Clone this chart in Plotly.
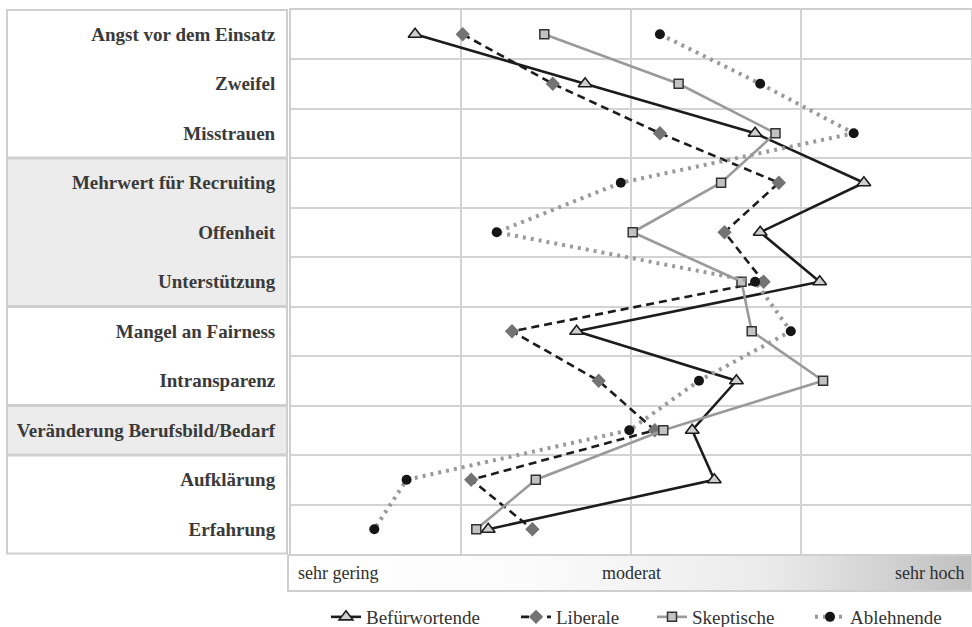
import plotly.graph_objects as go

# ---------------- data ----------------
categories = [
    "Angst vor dem Einsatz", "Zweifel", "Misstrauen",
    "Mehrwert für Recruiting", "Offenheit", "Unterstützung",
    "Mangel an Fairness", "Intransparenz",
    "Veränderung Berufsbild/Bedarf",
    "Aufklärung", "Erfahrung",
]
befuerwortende = [1.73, 2.73, 3.73, 4.37, 3.76, 4.11, 2.68, 3.62, 3.36, 3.49, 2.16]
liberale       = [2.01, 2.54, 3.17, 3.87, 3.55, 3.78, 2.30, 2.81, 3.14, 2.06, 2.42]
skeptische     = [2.49, 3.28, 3.85, 3.53, 3.01, 3.65, 3.71, 4.13, 3.19, 2.44, 2.09]
ablehnende     = [3.17, 3.76, 4.31, 2.94, 2.21, 3.73, 3.94, 3.40, 2.99, 1.68, 1.49]
series_names = ["Befürwortende", "Liberale", "Skeptische", "Ablehnende"]
scale_labels = ["sehr gering", "moderat", "sehr hoch"]
scale_values = [1, 3, 5]
x_grid = [2, 3, 4]
# row groups of the label panel: (first row, end row, shaded)
groups = [(0, 3, False), (3, 6, True), (6, 8, False), (8, 9, True), (9, 11, False)]

# ---------------- geometry ----------------
W, H = 972, 627
PL, PR, PT, PB = 291, 971, 9.5, 554      # plot area in pixels
ROW = (PB - PT) / len(categories)


def px(x):
    return x / W


def py(y):
    return 1 - y / H


SERIF = "Liberation Serif, Times New Roman, serif"

fig = go.Figure()

styles = [
    dict(line=dict(color="#1c1c1c", width=2.6),
         marker=dict(symbol="triangle-up", size=12, color="#cfcfcf",
                     line=dict(color="#1c1c1c", width=1.6))),
    dict(line=dict(color="#1c1c1c", width=2.6, dash="8px,5px"),
         marker=dict(symbol="diamond", size=11, color="#737373",
                     line=dict(color="#737373", width=0))),
    dict(line=dict(color="#9a9a9a", width=2.6),
         marker=dict(symbol="square", size=9, color="#c2c2c2",
                     line=dict(color="#333333", width=1.5))),
    dict(line=dict(color="#9a9a9a", width=4, dash="3px,5px"),
         marker=dict(symbol="circle", size=10, color="#151515",
                     line=dict(color="#151515", width=0))),
]
values = [befuerwortende, liberale, skeptische, ablehnende]
legend_ids = ["legend", "legend2", "legend3", "legend4"]

for name, vals, st, lg in zip(series_names, values, styles, legend_ids):
    fig.add_trace(go.Scatter(
        x=vals, y=categories, mode="lines+markers", name=name,
        legend=lg, hoverinfo="x+name", **st))

# gradient bar (second subplot)
fig.add_trace(go.Scatter(
    x=[0, 1, 1, 0, 0], y=[0, 0, 1, 1, 0], mode="lines",
    line=dict(width=0, color="rgba(0,0,0,0)"),
    fill="toself",
    fillgradient=dict(type="horizontal",
                      colorscale=[[0, "#ffffff"], [0.35, "#fbfbfb"],
                                  [0.7, "#ebebeb"], [1, "#c0c0c0"]]),
    xaxis="x2", yaxis="y2", showlegend=False, hoverinfo="skip"))

# label panel boxes
shapes = []
for a, b, shaded in groups:
    shapes.append(dict(
        type="rect", xref="paper", yref="paper", layer="below",
        x0=px(7), x1=px(287),
        y0=py(PT + ROW * a + 0.5), y1=py(PT + ROW * b - 0.5),
        fillcolor="#ececec" if shaded else "#ffffff",
        line=dict(color="#cfcfcf", width=2)))

annotations = []
for lab, v, anc, sh in zip(scale_labels, scale_values,
                           ["left", "center", "right"], [5, 0, -5]):
    annotations.append(dict(
        text=lab, x=v, xref="x", y=py(573), yref="paper",
        xanchor=anc, yanchor="middle", xshift=sh, showarrow=False,
        font=dict(family=SERIF, size=18, color="#2e2e2e")))

legend_text_x = [368, 558, 694, 852]
legends = {}
for lg, tx in zip(legend_ids, legend_text_x):
    legends[lg] = dict(
        x=px(tx - 42), xanchor="left", y=py(617), yanchor="middle",
        orientation="h", bgcolor="rgba(0,0,0,0)", borderwidth=0,
        font=dict(family=SERIF, size=19, color="#333333"))

fig.update_layout(
    width=W, height=H,
    margin=dict(l=0, r=0, t=0, b=0, autoexpand=False),
    paper_bgcolor="white", plot_bgcolor="white",
    shapes=shapes, annotations=annotations,
    xaxis=dict(domain=[px(PL), px(PR)], range=[1, 5],
               tickvals=x_grid, showticklabels=False, ticks="",
               showgrid=True, gridcolor="#d3d3d3", gridwidth=2,
               zeroline=False, showline=True, mirror=True,
               linecolor="#cfcfcf", linewidth=2),
    yaxis=dict(domain=[py(PB), py(PT)], type="category",
               categoryorder="array", categoryarray=categories,
               range=[len(categories) - 0.5, -0.5],
               tickson="boundaries", ticks="", ticklabelstandoff=10,
               showgrid=True, gridcolor="#d3d3d3", gridwidth=2,
               zeroline=False, showline=True, mirror=True,
               linecolor="#cfcfcf", linewidth=2,
               tickfont=dict(family=SERIF, size=19, color="#3a3a3a",
                             weight="bold")),
    xaxis2=dict(domain=[px(289), px(PR)], range=[0, 1], anchor="y2",
                showticklabels=False, showgrid=False, zeroline=False,
                ticks="", showline=True, mirror=True,
                linecolor="#cfcfcf", linewidth=2, fixedrange=True),
    yaxis2=dict(domain=[py(590), py(556)], range=[0, 1], anchor="x2",
                showticklabels=False, showgrid=False, zeroline=False,
                ticks="", showline=True, mirror=True,
                linecolor="#cfcfcf", linewidth=2, fixedrange=True),
    **legends,
)

fig.write_html("out.html", config={"displayModeBar": False},
               post_script="document.body.style.margin='0';document.body.style.overflow='hidden';")
